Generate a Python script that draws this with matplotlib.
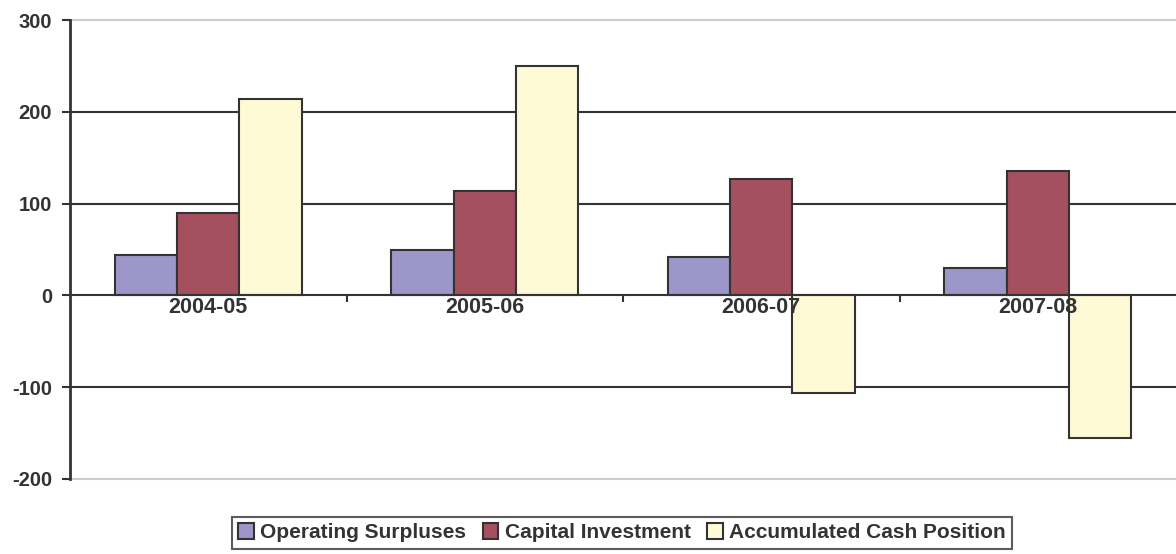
import matplotlib.pyplot as plt
from matplotlib.patches import Patch
import numpy as np

plt.rcParams['font.family'] = ['Liberation Sans', 'DejaVu Sans']
plt.rcParams['axes.unicode_minus'] = False

# Datos
years = ['2004-05', '2005-06', '2006-07', '2007-08']
operating_surpluses = [44, 49, 42, 30]
capital_investment = [90, 114, 127, 136]
accumulated_cash = [214, 250, -106, -155]

series_names = ['Operating Surpluses', 'Capital Investment', 'Accumulated Cash Position']
colors = ['#9D97C9', '#A5505E', '#FFFAD6']
edge = '#333333'
txt = '#333333'

fig = plt.figure(figsize=(11.76, 5.54), dpi=100)
ax = fig.add_axes([70/1176, 1 - 479/554, 1 - 70/1176, (479 - 20)/554])

x = np.arange(len(years))
w = 0.225
for i, (vals, c) in enumerate(zip([operating_surpluses, capital_investment, accumulated_cash], colors)):
    ax.bar(x + (i - 1) * w, vals, width=w, color=c, edgecolor=edge, linewidth=1.5, zorder=3)

# Lineas horizontales
for y in [-100, 100, 200]:
    ax.axhline(y, color=edge, linewidth=1.5, zorder=1)
for y in [300, -200]:
    ax.axhline(y, color='#CCCCCC', linewidth=1.5, zorder=1, clip_on=False)

ax.set_xlim(-0.5, 3.5)
ax.set_ylim(-200, 300)
ax.set_yticks([-200, -100, 0, 100, 200, 300])

# Eje x en cero
ax.spines['bottom'].set_position(('data', 0))
ax.spines['bottom'].set_color(edge)
ax.spines['bottom'].set_linewidth(1.5)
ax.spines['bottom'].set_zorder(4)
ax.spines['left'].set_color(edge)
ax.spines['left'].set_linewidth(2)
ax.spines['top'].set_visible(False)
ax.spines['right'].set_visible(False)
ax.xaxis.set_zorder(5)

ax.set_xticks(x)
ax.set_xticklabels(years, fontsize=15.5, fontweight='bold', color=txt)
ax.set_xticks([0.5, 1.5, 2.5], minor=True)
ax.tick_params(axis='x', which='major', length=0, pad=1.5)
ax.tick_params(axis='x', which='minor', length=5, width=1.5, color=edge, direction='out')
ax.tick_params(axis='y', length=6, width=1.5, color=edge, pad=7, labelsize=14.5)
for lab in ax.get_yticklabels():
    lab.set_fontweight('bold')
    lab.set_color(txt)

handles = [Patch(facecolor=c, edgecolor=edge, linewidth=1.5) for c in colors]
leg = fig.legend(handles, series_names, loc='upper center', bbox_to_anchor=(622/1176, 1 - 517/554),
                 ncol=3, frameon=True, fancybox=False, handlelength=0.75, handleheight=0.75,
                 handletextpad=0.3, columnspacing=0.8, borderpad=0.3, borderaxespad=0,
                 prop={'weight': 'bold', 'size': 15})
leg.get_frame().set_edgecolor(edge)
leg.get_frame().set_linewidth(1.5)
for t in leg.get_texts():
    t.set_color(txt)

plt.savefig('out.png', dpi=100)
